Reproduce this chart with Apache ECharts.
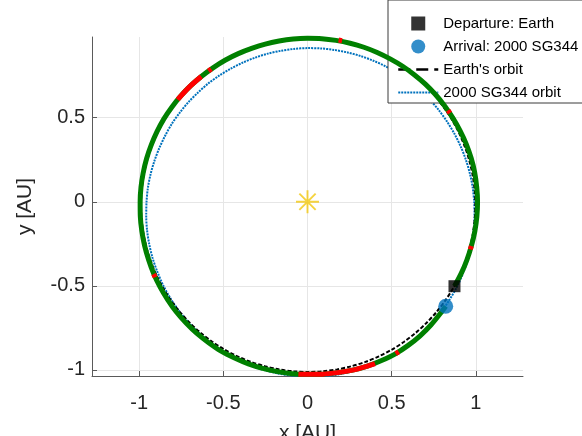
<!DOCTYPE html>
<html><head><meta charset="utf-8">
<script src="https://cdn.jsdelivr.net/npm/echarts@6/dist/echarts.min.js"></script>
<style>html,body{margin:0;padding:0;background:#fff}#c{width:582px;height:436px}</style>
</head><body><div id="c"></div>
<script>
// ---- data (AU) ----
const xTicks = [-1, -0.5, 0, 0.5, 1];
const yTicks = [-1, -0.5, 0, 0.5];
// Earth's orbit, starting at the top (seam hidden under the trajectory)
const earthOrbit = [[0.004,0.974],[-0.083,0.970],[-0.168,0.959],[-0.253,0.940],[-0.336,0.914],[-0.416,0.881],[-0.493,0.841],[-0.566,0.794],[-0.634,0.742],[-0.698,0.683],[-0.757,0.619],[-0.809,0.551],[-0.856,0.478],[-0.896,0.401],[-0.929,0.321],[-0.955,0.238],[-0.974,0.153],[-0.985,0.068],[-0.989,-0.019],[-0.985,-0.106],[-0.974,-0.191],[-0.955,-0.276],[-0.929,-0.359],[-0.896,-0.439],[-0.856,-0.516],[-0.809,-0.589],[-0.757,-0.657],[-0.698,-0.721],[-0.634,-0.780],[-0.566,-0.832],[-0.493,-0.879],[-0.416,-0.919],[-0.336,-0.952],[-0.253,-0.978],[-0.168,-0.997],[-0.083,-1.008],[0.004,-1.012],[0.091,-1.008],[0.176,-0.997],[0.261,-0.978],[0.344,-0.952],[0.424,-0.919],[0.501,-0.879],[0.574,-0.832],[0.642,-0.780],[0.706,-0.721],[0.765,-0.657],[0.817,-0.589],[0.864,-0.516],[0.904,-0.439],[0.937,-0.359],[0.963,-0.276],[0.982,-0.191],[0.993,-0.106],[0.997,-0.019],[0.993,0.068],[0.982,0.153],[0.963,0.238],[0.937,0.321],[0.904,0.401],[0.864,0.478],[0.817,0.551],[0.765,0.619],[0.706,0.683],[0.642,0.742],[0.574,0.794],[0.501,0.841],[0.424,0.881],[0.344,0.914],[0.261,0.940],[0.176,0.959],[0.091,0.970],[0.004,0.974]];
// 2000 SG344 orbit, starting at the bottom
const sg344Orbit = [[0,-1.040],[0.091,-1.038],[0.181,-1.027],[0.270,-1.007],[0.357,-0.980],[0.440,-0.944],[0.520,-0.901],[0.596,-0.851],[0.666,-0.794],[0.730,-0.730],[0.789,-0.662],[0.840,-0.588],[0.885,-0.511],[0.922,-0.430],[0.951,-0.346],[0.972,-0.261],[0.986,-0.174],[0.992,-0.087],[0.990,0],[0.981,0.086],[0.964,0.170],[0.940,0.252],[0.909,0.331],[0.872,0.406],[0.828,0.478],[0.779,0.546],[0.725,0.608],[0.666,0.666],[0.602,0.718],[0.535,0.764],[0.465,0.805],[0.391,0.839],[0.315,0.867],[0.238,0.888],[0.159,0.903],[0.080,0.912],[0,0.914],[-0.080,0.909],[-0.158,0.898],[-0.236,0.881],[-0.312,0.857],[-0.386,0.827],[-0.457,0.791],[-0.525,0.750],[-0.590,0.703],[-0.650,0.650],[-0.707,0.593],[-0.758,0.531],[-0.805,0.465],[-0.845,0.394],[-0.880,0.320],[-0.909,0.244],[-0.932,0.164],[-0.948,0.083],[-0.956,0],[-0.958,-0.084],[-0.953,-0.168],[-0.940,-0.252],[-0.920,-0.335],[-0.892,-0.416],[-0.858,-0.495],[-0.816,-0.571],[-0.767,-0.644],[-0.712,-0.712],[-0.650,-0.775],[-0.583,-0.833],[-0.511,-0.885],[-0.433,-0.930],[-0.352,-0.967],[-0.267,-0.998],[-0.180,-1.020],[-0.091,-1.034],[0,-1.040]];
// low-thrust transfer trajectory, departure -> arrival
const trajectory = [[0.873,-0.502],[0.913,-0.426],[0.947,-0.345],[0.974,-0.261],[0.994,-0.175],[1.006,-0.088],[1.010,0],[1.005,0.088],[0.993,0.175],[0.972,0.260],[0.943,0.343],[0.906,0.423],[0.863,0.499],[0.815,0.570],[0.760,0.638],[0.700,0.700],[0.634,0.756],[0.565,0.806],[0.491,0.850],[0.414,0.888],[0.335,0.919],[0.253,0.943],[0.169,0.960],[0.085,0.970],[0,0.972],[-0.085,0.968],[-0.169,0.956],[-0.251,0.938],[-0.332,0.912],[-0.411,0.881],[-0.487,0.843],[-0.559,0.798],[-0.627,0.748],[-0.692,0.692],[-0.751,0.631],[-0.805,0.564],[-0.853,0.493],[-0.894,0.417],[-0.928,0.338],[-0.956,0.256],[-0.976,0.172],[-0.989,0.087],[-0.994,0],[-0.993,-0.087],[-0.984,-0.174],[-0.968,-0.259],[-0.944,-0.344],[-0.914,-0.426],[-0.876,-0.506],[-0.831,-0.582],[-0.780,-0.654],[-0.721,-0.721],[-0.657,-0.783],[-0.587,-0.838],[-0.513,-0.888],[-0.433,-0.929],[-0.351,-0.964],[-0.266,-0.991],[-0.178,-1.010],[-0.089,-1.022],[0,-1.026],[0.090,-1.025],[0.179,-1.016],[0.268,-1.001],[0.356,-0.977],[0.440,-0.944],[0.522,-0.904],[0.598,-0.854],[0.669,-0.797],[0.733,-0.733],[0.790,-0.663],[0.821,-0.621]];
const thrustArc1 = [[-0.631,0.745],[-0.692,0.692],[-0.751,0.631],[-0.771,0.608]];
const thrustArc2 = [[-0.054,-1.025],[0,-1.026],[0.090,-1.025],[0.179,-1.016],[0.268,-1.001],[0.356,-0.977],[0.401,-0.962]];
const thrustMarks = [
  [[-0.572,0.790],[-0.588,0.778]],
  [[0.205,0.958],[0.185,0.962]],
  [[0.846,0.527],[0.835,0.544]],
  [[0.967,-0.283],[0.973,-0.263]],
  [[0.524,-0.903],[0.542,-0.892]],
  [[-0.914,-0.430],[-0.905,-0.449]]
];
const departure = [[0.873,-0.502]];
const arrival = [[0.821,-0.621]];
const sun = [[0,0]];
const legendNames = ['Departure: Earth','Arrival: 2000 SG344',"Earth's orbit",'2000 SG344 orbit'];

// ---- chart ----
const FONT = '"Liberation Sans", Arial, Helvetica, sans-serif';
const axisGray = '#5a5a5a';
const starPath = 'path://M-1,-12 L1,-12 L1,12 L-1,12 Z M-12,-1 L12,-1 L12,1 L-12,1 Z M-9.192,-7.778 L-7.778,-9.192 L9.192,7.778 L7.778,9.192 Z M-7.778,9.192 L-9.192,7.778 L7.778,-9.192 L9.192,-7.778 Z';
const squarePath = 'path://M0,0 L10,0 L10,10 L0,10 Z';
const SM = 0.3;

const chart = echarts.init(document.getElementById('c'), null, {renderer:'canvas'});
const series = [
  {type:'line', name:legendNames[3], data:sg344Orbit, symbol:'none', smooth:SM, z:2,
   lineStyle:{color:'#0072BD', width:2, type:[2,1]}, itemStyle:{color:'#0072BD'}},
  {type:'line', name:legendNames[2], data:earthOrbit, symbol:'none', smooth:SM, z:3,
   lineStyle:{color:'#000', width:2, type:[4,2]}, itemStyle:{color:'#000'}},
  {type:'line', name:'trajectory', data:trajectory, symbol:'none', smooth:SM, z:4,
   lineStyle:{color:'#008000', width:5, join:'round'}},
  {type:'line', name:'thrust1', data:thrustArc1, symbol:'none', smooth:SM, z:5,
   lineStyle:{color:'#ff0000', width:5}},
  {type:'line', name:'thrust2', data:thrustArc2, symbol:'none', smooth:SM, z:5,
   lineStyle:{color:'#ff0000', width:5}}
];
thrustMarks.forEach((m,i)=>series.push({type:'line', name:'mark'+i, data:m, symbol:'none', z:5,
   lineStyle:{color:'#ff0000', width:5}}));
series.push(
  {type:'scatter', name:'sun', data:sun, symbol:starPath, symbolSize:23, z:6,
   itemStyle:{color:'#f2c80f'}},
  {type:'scatter', name:legendNames[0], data:departure, symbol:'rect', symbolSize:12, z:7,
   itemStyle:{color:'#000'}},
  {type:'scatter', name:legendNames[1], data:arrival, symbol:'circle', symbolSize:15, z:8,
   itemStyle:{color:'#0072BD'}}
);

const hidden = {color:'rgba(0,0,0,0)', borderWidth:0, borderColor:'rgba(0,0,0,0)'};
chart.setOption({
  animation:false,
  backgroundColor:'#fff',
  textStyle:{fontFamily:FONT},
  grid:{left:92, right:59, top:37, bottom:60, containLabel:false, outerBoundsMode:'none'},
  legend:{
    orient:'vertical', left:388, top:0,
    padding:[16,30,3,9],
    itemWidth:40, itemHeight:14, itemGap:8,
    backgroundColor:'#fff', borderColor:'#3a3a3a', borderWidth:1,
    textStyle:{fontFamily:FONT, fontSize:15, color:'#000', lineHeight:14},
    selectedMode:false,
    data:[
      {name:legendNames[0], icon:squarePath, itemStyle:{color:'#000'}},
      {name:legendNames[1], icon:'circle', itemStyle:{color:'#0072BD'}},
      {name:legendNames[2], itemStyle:hidden, lineStyle:{type:[12,6], width:2.5, color:'#000'}},
      {name:legendNames[3], itemStyle:hidden, lineStyle:{type:[2,1], width:2, color:'#0072BD'}}
    ]
  },
  xAxis:{
    type:'value', min:-1.28, max:1.28,
    name:'x [AU]', nameLocation:'middle', nameGap:47,
    nameTextStyle:{fontFamily:FONT, fontSize:21, color:'#262626'},
    axisLine:{onZero:false, lineStyle:{color:axisGray, width:1}},
    axisTick:{inside:true, length:5, customValues:xTicks, lineStyle:{color:axisGray}},
    axisLabel:{customValues:xTicks, margin:17, fontFamily:FONT, fontSize:20, color:'#262626'},
    splitLine:{show:true, lineStyle:{color:'#e6e6e6', width:1}}
  },
  yAxis:{
    type:'value', min:-1.036, max:0.98,
    name:'y [AU]', nameLocation:'middle', nameGap:56, nameRotate:90,
    nameTextStyle:{fontFamily:FONT, fontSize:21, color:'#262626'},
    axisLine:{onZero:false, lineStyle:{color:axisGray, width:1}},
    axisTick:{inside:true, length:5, customValues:yTicks, lineStyle:{color:axisGray}},
    axisLabel:{customValues:yTicks, margin:7, fontFamily:FONT, fontSize:20, color:'#262626'},
    splitLine:{show:true, lineStyle:{color:'#e6e6e6', width:1}}
  },
  series:series
});
</script>
</body></html>
